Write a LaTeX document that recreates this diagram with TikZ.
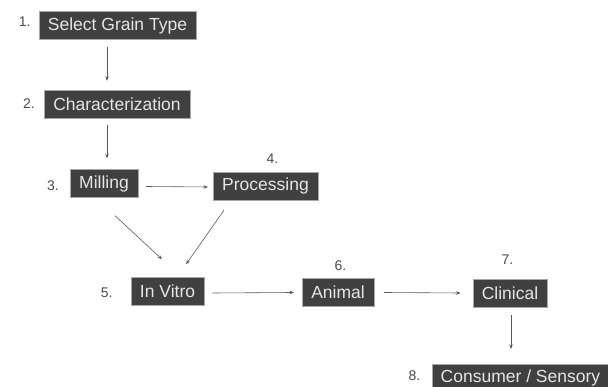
\documentclass[tikz,border=0pt]{standalone}
\usepackage{fontspec}
\setmainfont{Liberation Sans}
\usepackage{xcolor}
\usetikzlibrary{arrows.meta,positioning,calc}
\definecolor{boxgray}{HTML}{404040}
\definecolor{numgray}{HTML}{4A4A4A}
\definecolor{arrgray}{HTML}{5A5A5A}

\begin{document}
\begin{tikzpicture}[
  x=1pt,y=-1pt,
  stepbox/.style={fill=boxgray,draw=gray!70,line width=0.4pt,text=white!90!black,
    font=\fontsize{17.5}{20}\selectfont,inner xsep=9pt,inner ysep=0pt,minimum height=28pt},
  num/.style={text=numgray,font=\fontsize{14}{16}\selectfont,inner sep=0pt},
  arr/.style={-{Stealth[length=4.5pt,width=3.5pt]},draw=arrgray,line width=0.6pt}]
\clip (0,0) rectangle (608,387);
\node[stepbox] (sel) at (117.5,25.5) {Select Grain Type};
\node[stepbox] (char) at (117,104) {Characterization};
\node[stepbox] (mill) at (104,183.5) {Milling};
\node[stepbox] (proc) at (265.5,186) {Processing};
\node[stepbox] (vitro) at (167.5,291.5) {In Vitro};
\node[stepbox] (anim) at (338,292.5) {Animal};
\node[stepbox] (clin) at (510,293) {Clinical};
\node[stepbox,anchor=north west] (cons) at (431.5,364) {Consumer / Sensory};
\node[num,left=8pt of sel,yshift=4pt] (n1) {1.};
\node[num,left=9pt of char] (n2) {2.};
\node[num,left=11pt of mill,yshift=-2pt] (n3) {3.};
\node[num,above=8pt of proc,xshift=7pt] (n4) {4.};
\node[num,left=18pt of vitro,yshift=-1pt] (n5) {5.};
\node[num,above=7pt of anim,xshift=2.5pt] (n6) {6.};
\node[num,above=14pt of clin,xshift=-2.5pt] (n7) {7.};
\node[num,left=11pt of cons,yshift=3pt] (n8) {8.};
\draw[arr] ([xshift=-10.5pt,yshift=-7pt]sel.south) -- ([xshift=-10pt,yshift=9pt]char.north);
\draw[arr] ([xshift=-10pt,yshift=-7pt]char.south) -- ([xshift=3pt,yshift=11pt]mill.north);
\draw[arr] ([xshift=8pt,yshift=-3pt]mill.east) -- ([xshift=-5pt,yshift=-1pt]proc.west);
\draw[arr] ([xshift=11pt,yshift=-18pt]mill.south) -- ([xshift=-5.5pt,yshift=18pt]vitro.north);
\draw[arr] ([xshift=-41.5pt,yshift=-10pt]proc.south) -- ([xshift=18.5pt,yshift=13pt]vitro.north);
\draw[arr] ([xshift=8pt,yshift=-1.5pt]vitro.east) -- ([xshift=-8pt]anim.west);
\draw[arr] ([xshift=10pt]anim.east) -- ([xshift=-12pt]clin.west);
\draw[arr] ([xshift=1pt,yshift=-8pt]clin.south) -- ([xshift=1pt,yshift=15pt]clin.south |- cons.north);
\end{tikzpicture}
\end{document}
